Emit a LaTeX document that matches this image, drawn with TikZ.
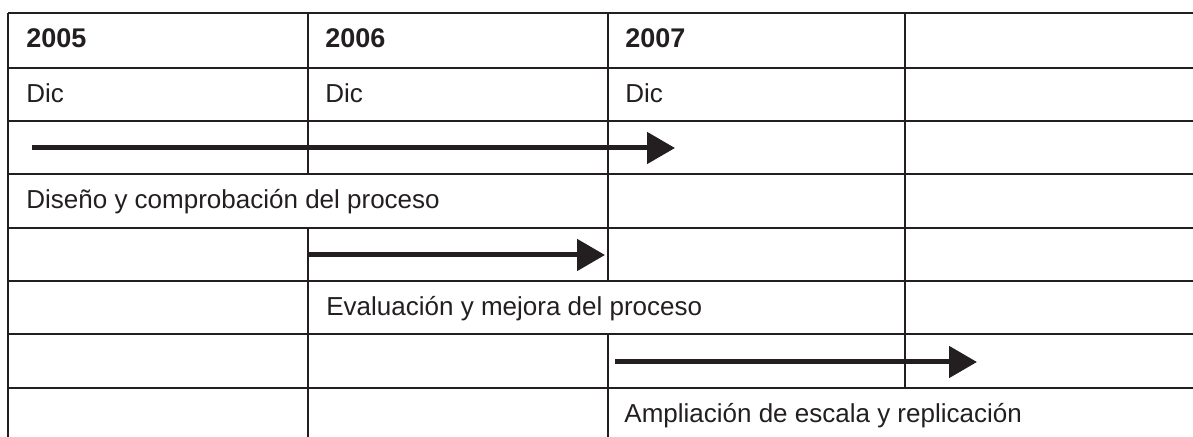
\documentclass[tikz,border=0pt]{standalone}
\usepackage{fontspec}
\setmainfont{Liberation Sans}
\usetikzlibrary{arrows.meta}
\definecolor{ink}{HTML}{231F20}

\begin{document}
\begin{tikzpicture}[x=0.5pt,y=-0.5pt,
    rule/.style={draw=ink,line width=1pt},
    year/.style={anchor=base west,inner sep=0pt,text=ink,font=\fontsize{13.5}{16}\selectfont\bfseries},
    cell/.style={anchor=base west,inner sep=0pt,text=ink,font=\fontsize{13}{16}\selectfont},
    bar/.style={-{Triangle[length=14pt,width=15.5pt]},draw=ink,line width=2.5pt}]

    \useasboundingbox (0,0) rectangle (1193,437);

    % table rules
    \foreach \y in {13,68,121,174,228,281,334,388}
        \draw[rule] (8,\y) -- (1193,\y);
    \draw[rule] (8,13) -- (8,437);
    \draw[rule] (308,13) -- (308,174) (308,228) -- (308,437);
    \draw[rule] (608,13) -- (608,281) (608,334) -- (608,437);
    \draw[rule] (905,13) -- (905,388);

    \node[year] (y1) at (26,48) {2005};
    \node[year] (y2) at (325,48) {2006};
    \node[year] (y3) at (625,48) {2007};
    \node[cell] (m1) at (26,103) {Dic};
    \node[cell] (m2) at (325,103) {Dic};
    \node[cell] (m3) at (625,103) {Dic};

    \node[cell] (t1) at (26,209) {Diseño y comprobación del proceso};
    \node[cell] (t2) at (326,316) {Evaluación y mejora del proceso};
    \node[cell] (t3) at (624,423) {Ampliación de escala y replicación};

    \coordinate (a1) at (32,148);
    \coordinate (b1) at (675,148);
    \coordinate (a2) at (308,255);
    \coordinate (b2) at (605,255);
    \coordinate (a3) at (615,362);
    \coordinate (b3) at (977,362);

    \path
        (a1) edge[bar] (b1)
        (a2) edge[bar] (b2)
        (a3) edge[bar] (b3)
        ;
\end{tikzpicture}
\end{document}
